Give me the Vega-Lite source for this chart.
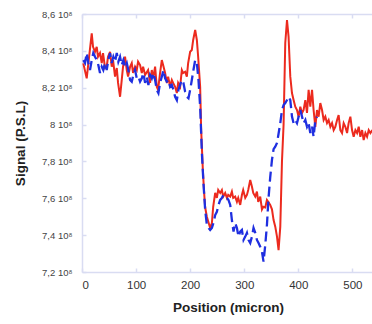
{
  "$schema": "https://vega.github.io/schema/vega-lite/v6.json",
  "width": 292,
  "height": 258,
  "autosize": {"type": "none"},
  "padding": {"left": 82, "top": 14, "right": 0, "bottom": 52},
  "background": "white",
  "config": {
    "view": {"stroke": null},
    "font": "Liberation Sans",
    "axis": {
      "grid": false,
      "domainColor": "#d9dcf2",
      "domainWidth": 1.5,
      "tickColor": "#d9dcf2",
      "tickWidth": 1.5,
      "tickSize": -4,
      "labelColor": "#444444",
      "titleColor": "#222222",
      "titleFont": "Liberation Sans",
      "labelFont": "Liberation Sans",
      "titleFontWeight": "bold",
      "titleFontSize": 13.5,
      "labelOverlap": false
    }
  },
  "data": {
    "values": [
      {"series":"red","position":2.4,"signal":8.332e8},{"series":"red","position":8.7,"signal":8.251e8},{"series":"red","position":11.1,"signal":8.314e8},{"series":"red","position":18,"signal":8.495e8},{"series":"red","position":20.4,"signal":8.422e8},{"series":"red","position":24.1,"signal":8.395e8},{"series":"red","position":27.2,"signal":8.422e8},{"series":"red","position":29.6,"signal":8.368e8},{"series":"red","position":33.3,"signal":8.388e8},{"series":"red","position":36.5,"signal":8.334e8},{"series":"red","position":38.9,"signal":8.388e8},{"series":"red","position":42.6,"signal":8.307e8},{"series":"red","position":45.7,"signal":8.314e8},{"series":"red","position":48.1,"signal":8.368e8},{"series":"red","position":51.9,"signal":8.395e8},{"series":"red","position":55,"signal":8.314e8},{"series":"red","position":57.4,"signal":8.35e8},{"series":"red","position":61.1,"signal":8.26e8},{"series":"red","position":64.3,"signal":8.307e8},{"series":"red","position":66.7,"signal":8.226e8},{"series":"red","position":70.4,"signal":8.151e8},{"series":"red","position":73.5,"signal":8.242e8},{"series":"red","position":75.9,"signal":8.314e8},{"series":"red","position":79.6,"signal":8.368e8},{"series":"red","position":82.8,"signal":8.296e8},{"series":"red","position":85.2,"signal":8.26e8},{"series":"red","position":88.9,"signal":8.314e8},{"series":"red","position":92,"signal":8.334e8},{"series":"red","position":94.4,"signal":8.28e8},{"series":"red","position":98.1,"signal":8.314e8},{"series":"red","position":101.3,"signal":8.296e8},{"series":"red","position":103.7,"signal":8.341e8},{"series":"red","position":107.4,"signal":8.323e8},{"series":"red","position":110.6,"signal":8.28e8},{"series":"red","position":113,"signal":8.314e8},{"series":"red","position":116.7,"signal":8.269e8},{"series":"red","position":122.2,"signal":8.296e8},{"series":"red","position":125.9,"signal":8.226e8},{"series":"red","position":129.1,"signal":8.296e8},{"series":"red","position":131.5,"signal":8.251e8},{"series":"red","position":135.2,"signal":8.314e8},{"series":"red","position":138.3,"signal":8.205e8},{"series":"red","position":140.7,"signal":8.188e8},{"series":"red","position":144.4,"signal":8.28e8},{"series":"red","position":147.6,"signal":8.35e8},{"series":"red","position":150,"signal":8.323e8},{"series":"red","position":153.7,"signal":8.28e8},{"series":"red","position":156.9,"signal":8.226e8},{"series":"red","position":159.3,"signal":8.26e8},{"series":"red","position":163,"signal":8.205e8},{"series":"red","position":166.1,"signal":8.242e8},{"series":"red","position":168.5,"signal":8.226e8},{"series":"red","position":172.2,"signal":8.205e8},{"series":"red","position":175.4,"signal":8.171e8},{"series":"red","position":177.8,"signal":8.226e8},{"series":"red","position":181.5,"signal":8.205e8},{"series":"red","position":184.6,"signal":8.296e8},{"series":"red","position":187,"signal":8.28e8},{"series":"red","position":190.7,"signal":8.287e8},{"series":"red","position":193.9,"signal":8.26e8},{"series":"red","position":196.3,"signal":8.334e8},{"series":"red","position":200,"signal":8.395e8},{"series":"red","position":203.1,"signal":8.405e8},{"series":"red","position":205.6,"signal":8.459e8},{"series":"red","position":209.3,"signal":8.513e8},{"series":"red","position":212.4,"signal":8.459e8},{"series":"red","position":214.8,"signal":8.368e8},{"series":"red","position":218.5,"signal":8.205e8},{"series":"red","position":220.4,"signal":7.97e8},{"series":"red","position":223.5,"signal":7.753e8},{"series":"red","position":225.9,"signal":7.629e8},{"series":"red","position":227.8,"signal":7.55e8},{"series":"red","position":230.9,"signal":7.5e8},{"series":"red","position":237,"signal":7.439e8},{"series":"red","position":240.2,"signal":7.466e8},{"series":"red","position":242.6,"signal":7.554e8},{"series":"red","position":246.3,"signal":7.629e8},{"series":"red","position":249.4,"signal":7.602e8},{"series":"red","position":251.9,"signal":7.645e8},{"series":"red","position":255.6,"signal":7.629e8},{"series":"red","position":258.7,"signal":7.645e8},{"series":"red","position":261.1,"signal":7.609e8},{"series":"red","position":264.8,"signal":7.629e8},{"series":"red","position":268,"signal":7.602e8},{"series":"red","position":270.4,"signal":7.618e8},{"series":"red","position":274.1,"signal":7.609e8},{"series":"red","position":277.2,"signal":7.636e8},{"series":"red","position":279.6,"signal":7.602e8},{"series":"red","position":283.3,"signal":7.609e8},{"series":"red","position":286.5,"signal":7.581e8},{"series":"red","position":288.9,"signal":7.602e8},{"series":"red","position":292.6,"signal":7.564e8},{"series":"red","position":295.7,"signal":7.618e8},{"series":"red","position":298.1,"signal":7.645e8},{"series":"red","position":301.9,"signal":7.602e8},{"series":"red","position":305,"signal":7.618e8},{"series":"red","position":307.4,"signal":7.645e8},{"series":"red","position":311.1,"signal":7.699e8},{"series":"red","position":314.3,"signal":7.663e8},{"series":"red","position":316.7,"signal":7.629e8},{"series":"red","position":320.4,"signal":7.609e8},{"series":"red","position":323.5,"signal":7.636e8},{"series":"red","position":325.9,"signal":7.581e8},{"series":"red","position":329.6,"signal":7.609e8},{"series":"red","position":332.8,"signal":7.54e8},{"series":"red","position":335.2,"signal":7.554e8},{"series":"red","position":338.9,"signal":7.55e8},{"series":"red","position":342,"signal":7.591e8},{"series":"red","position":344.4,"signal":7.581e8},{"series":"red","position":348.1,"signal":7.564e8},{"series":"red","position":351.3,"signal":7.54e8},{"series":"red","position":354.3,"signal":7.482e8},{"series":"red","position":357.4,"signal":7.446e8},{"series":"red","position":360.6,"signal":7.392e8},{"series":"red","position":363.5,"signal":7.319e8},{"series":"red","position":366.7,"signal":7.446e8},{"series":"red","position":369.8,"signal":7.8e8},{"series":"red","position":372.8,"signal":8.0e8},{"series":"red","position":375.9,"signal":8.443e8},{"series":"red","position":379.1,"signal":8.567e8},{"series":"red","position":382,"signal":8.477e8},{"series":"red","position":385.2,"signal":8.26e8},{"series":"red","position":388.3,"signal":8.171e8},{"series":"red","position":391.3,"signal":8.133e8},{"series":"red","position":394.4,"signal":8.097e8},{"series":"red","position":397.6,"signal":8.079e8},{"series":"red","position":400.6,"signal":8.043e8},{"series":"red","position":403.7,"signal":8.097e8},{"series":"red","position":406.9,"signal":8.063e8},{"series":"red","position":409.8,"signal":8.079e8},{"series":"red","position":413,"signal":8.133e8},{"series":"red","position":416.1,"signal":8.063e8},{"series":"red","position":419.1,"signal":8.188e8},{"series":"red","position":422.2,"signal":8.097e8},{"series":"red","position":425.4,"signal":8.188e8},{"series":"red","position":428.3,"signal":8.079e8},{"series":"red","position":431.5,"signal":7.988e8},{"series":"red","position":434.6,"signal":8.079e8},{"series":"red","position":437.6,"signal":8.043e8},{"series":"red","position":440.7,"signal":8.117e8},{"series":"red","position":443.9,"signal":8.079e8},{"series":"red","position":446.9,"signal":8.025e8},{"series":"red","position":450,"signal":8.043e8},{"series":"red","position":453.1,"signal":8.008e8},{"series":"red","position":456.1,"signal":8.025e8},{"series":"red","position":459.3,"signal":7.988e8},{"series":"red","position":462.4,"signal":8.008e8},{"series":"red","position":465.4,"signal":7.97e8},{"series":"red","position":468.5,"signal":7.988e8},{"series":"red","position":471.7,"signal":8.025e8},{"series":"red","position":474.6,"signal":8.052e8},{"series":"red","position":477.8,"signal":7.97e8},{"series":"red","position":480.9,"signal":7.954e8},{"series":"red","position":483.9,"signal":8.008e8},{"series":"red","position":487,"signal":7.988e8},{"series":"red","position":490.2,"signal":7.954e8},{"series":"red","position":493.1,"signal":8.008e8},{"series":"red","position":496.3,"signal":8.043e8},{"series":"red","position":499.4,"signal":7.97e8},{"series":"red","position":502.4,"signal":7.934e8},{"series":"red","position":505.6,"signal":7.97e8},{"series":"red","position":508.7,"signal":7.954e8},{"series":"red","position":511.7,"signal":7.988e8},{"series":"red","position":514.8,"signal":7.934e8},{"series":"red","position":518,"signal":7.97e8},{"series":"red","position":520.9,"signal":7.916e8},{"series":"red","position":524.1,"signal":7.954e8},{"series":"red","position":527.2,"signal":7.934e8},{"series":"red","position":530.2,"signal":7.97e8},{"series":"red","position":533.3,"signal":7.954e8},{"series":"red","position":537,"signal":7.97e8},
      {"series":"blue","position":2.4,"signal":8.35e8},{"series":"blue","position":5.6,"signal":8.334e8},{"series":"blue","position":8.7,"signal":8.388e8},{"series":"blue","position":11.7,"signal":8.334e8},{"series":"blue","position":14.8,"signal":8.296e8},{"series":"blue","position":18,"signal":8.35e8},{"series":"blue","position":20.9,"signal":8.388e8},{"series":"blue","position":24.1,"signal":8.368e8},{"series":"blue","position":27.2,"signal":8.35e8},{"series":"blue","position":30.2,"signal":8.323e8},{"series":"blue","position":33.3,"signal":8.28e8},{"series":"blue","position":36.5,"signal":8.314e8},{"series":"blue","position":39.4,"signal":8.296e8},{"series":"blue","position":42.6,"signal":8.334e8},{"series":"blue","position":45.7,"signal":8.296e8},{"series":"blue","position":48.7,"signal":8.35e8},{"series":"blue","position":51.9,"signal":8.388e8},{"series":"blue","position":55,"signal":8.334e8},{"series":"blue","position":58,"signal":8.368e8},{"series":"blue","position":61.1,"signal":8.341e8},{"series":"blue","position":64.3,"signal":8.388e8},{"series":"blue","position":67.2,"signal":8.341e8},{"series":"blue","position":70.4,"signal":8.368e8},{"series":"blue","position":73.5,"signal":8.323e8},{"series":"blue","position":76.5,"signal":8.35e8},{"series":"blue","position":79.6,"signal":8.314e8},{"series":"blue","position":82.8,"signal":8.334e8},{"series":"blue","position":85.7,"signal":8.296e8},{"series":"blue","position":88.9,"signal":8.242e8},{"series":"blue","position":92,"signal":8.233e8},{"series":"blue","position":95,"signal":8.269e8},{"series":"blue","position":98.1,"signal":8.296e8},{"series":"blue","position":101.3,"signal":8.251e8},{"series":"blue","position":104.3,"signal":8.26e8},{"series":"blue","position":107.4,"signal":8.233e8},{"series":"blue","position":110.6,"signal":8.251e8},{"series":"blue","position":113.5,"signal":8.28e8},{"series":"blue","position":116.7,"signal":8.226e8},{"series":"blue","position":119.8,"signal":8.26e8},{"series":"blue","position":122.8,"signal":8.215e8},{"series":"blue","position":125.9,"signal":8.269e8},{"series":"blue","position":129.1,"signal":8.251e8},{"series":"blue","position":132,"signal":8.28e8},{"series":"blue","position":135.2,"signal":8.242e8},{"series":"blue","position":138.3,"signal":8.188e8},{"series":"blue","position":141.3,"signal":8.171e8},{"series":"blue","position":144.4,"signal":8.226e8},{"series":"blue","position":147.6,"signal":8.26e8},{"series":"blue","position":150.6,"signal":8.296e8},{"series":"blue","position":153.7,"signal":8.251e8},{"series":"blue","position":156.9,"signal":8.233e8},{"series":"blue","position":159.8,"signal":8.242e8},{"series":"blue","position":163,"signal":8.205e8},{"series":"blue","position":166.1,"signal":8.215e8},{"series":"blue","position":169.1,"signal":8.188e8},{"series":"blue","position":172.2,"signal":8.151e8},{"series":"blue","position":175.4,"signal":8.133e8},{"series":"blue","position":178.3,"signal":8.188e8},{"series":"blue","position":181.5,"signal":8.215e8},{"series":"blue","position":184.6,"signal":8.242e8},{"series":"blue","position":187.6,"signal":8.226e8},{"series":"blue","position":190.7,"signal":8.178e8},{"series":"blue","position":193.9,"signal":8.151e8},{"series":"blue","position":196.9,"signal":8.143e8},{"series":"blue","position":200,"signal":8.188e8},{"series":"blue","position":203.1,"signal":8.242e8},{"series":"blue","position":206.1,"signal":8.296e8},{"series":"blue","position":209.3,"signal":8.35e8},{"series":"blue","position":212.4,"signal":8.334e8},{"series":"blue","position":215.4,"signal":8.242e8},{"series":"blue","position":218.5,"signal":8.097e8},{"series":"blue","position":221.7,"signal":7.846e8},{"series":"blue","position":224.6,"signal":7.683e8},{"series":"blue","position":227.8,"signal":7.536e8},{"series":"blue","position":230.9,"signal":7.455e8},{"series":"blue","position":233.9,"signal":7.439e8},{"series":"blue","position":237,"signal":7.428e8},{"series":"blue","position":240.2,"signal":7.439e8},{"series":"blue","position":243.1,"signal":7.466e8},{"series":"blue","position":246.3,"signal":7.509e8},{"series":"blue","position":249.4,"signal":7.527e8},{"series":"blue","position":252.4,"signal":7.564e8},{"series":"blue","position":255.6,"signal":7.591e8},{"series":"blue","position":258.7,"signal":7.602e8},{"series":"blue","position":261.7,"signal":7.618e8},{"series":"blue","position":264.8,"signal":7.609e8},{"series":"blue","position":268,"signal":7.602e8},{"series":"blue","position":270.9,"signal":7.591e8},{"series":"blue","position":274.1,"signal":7.564e8},{"series":"blue","position":277.2,"signal":7.482e8},{"series":"blue","position":280.2,"signal":7.419e8},{"series":"blue","position":283.3,"signal":7.466e8},{"series":"blue","position":286.5,"signal":7.439e8},{"series":"blue","position":289.4,"signal":7.392e8},{"series":"blue","position":292.6,"signal":7.419e8},{"series":"blue","position":295.7,"signal":7.428e8},{"series":"blue","position":298.7,"signal":7.374e8},{"series":"blue","position":301.9,"signal":7.392e8},{"series":"blue","position":305,"signal":7.412e8},{"series":"blue","position":307.9,"signal":7.374e8},{"series":"blue","position":311.1,"signal":7.357e8},{"series":"blue","position":314.3,"signal":7.392e8},{"series":"blue","position":317.2,"signal":7.439e8},{"series":"blue","position":320.4,"signal":7.412e8},{"series":"blue","position":323.5,"signal":7.374e8},{"series":"blue","position":326.5,"signal":7.357e8},{"series":"blue","position":329.6,"signal":7.337e8},{"series":"blue","position":332.8,"signal":7.31e8},{"series":"blue","position":335.7,"signal":7.256e8},{"series":"blue","position":338.9,"signal":7.346e8},{"series":"blue","position":342,"signal":7.455e8},{"series":"blue","position":344.9,"signal":7.6e8},{"series":"blue","position":348.1,"signal":7.715e8},{"series":"blue","position":351.3,"signal":7.808e8},{"series":"blue","position":354.3,"signal":7.867e8},{"series":"blue","position":357.4,"signal":7.88e8},{"series":"blue","position":360.6,"signal":7.9e8},{"series":"blue","position":363.5,"signal":7.95e8},{"series":"blue","position":366.7,"signal":8.008e8},{"series":"blue","position":369.8,"signal":8.079e8},{"series":"blue","position":372.8,"signal":8.106e8},{"series":"blue","position":375.9,"signal":8.117e8},{"series":"blue","position":379.1,"signal":8.133e8},{"series":"blue","position":382,"signal":8.151e8},{"series":"blue","position":385.2,"signal":8.133e8},{"series":"blue","position":388.3,"signal":8.043e8},{"series":"blue","position":391.3,"signal":8.008e8},{"series":"blue","position":394.4,"signal":8.025e8},{"series":"blue","position":397.6,"signal":8.008e8},{"series":"blue","position":400.6,"signal":8.043e8},{"series":"blue","position":403.7,"signal":8.079e8},{"series":"blue","position":406.9,"signal":8.043e8},{"series":"blue","position":409.8,"signal":8.008e8},{"series":"blue","position":413,"signal":8.025e8},{"series":"blue","position":416.1,"signal":7.988e8},{"series":"blue","position":419.1,"signal":8.008e8},{"series":"blue","position":422.2,"signal":7.954e8},{"series":"blue","position":425.4,"signal":7.988e8},{"series":"blue","position":428.3,"signal":7.934e8},{"series":"blue","position":431.5,"signal":8.025e8},{"series":"blue","position":434.6,"signal":8.043e8}
    ]
  },
  "layer": [
    {
      "transform": [{"filter": "datum.series === 'red'"}],
      "mark": {"type": "line", "color": "#ec2a1e", "strokeWidth": 2, "clip": true},
      "encoding": {
        "x": {
          "field": "position", "type": "quantitative",
          "scale": {"domain": [0, 540], "nice": false, "zero": false},
          "axis": {"title": "Position (micron)", "values": [0,100,200,300,400,500], "tickCount": 12, "labelFontSize": 11.5, "labelPadding": 11, "titlePadding": 10, "labelColor": "#333333"}
        },
        "y": {
          "field": "signal", "type": "quantitative",
          "scale": {"domain": [7.2e8, 8.6e8], "nice": false, "zero": false},
          "axis": {
            "title": "Signal (P.S.L)",
            "values": [7.2e8, 7.4e8, 7.6e8, 7.8e8, 8.0e8, 8.2e8, 8.4e8, 8.6e8],
            "tickCount": 16,
            "labelExpr": "replace(format(datum.value / 1e8, '.1~f'), '.', ',') + ' 10⁸'",
            "labelFontSize": 9.5,
            "labelPadding": 14,
            "titlePadding": 14,
            "labelOverlap": false,
            "labelBound": false,
            "labelFlush": false
          }
        }
      }
    },
    {
      "transform": [{"filter": "datum.series === 'blue'"}],
      "mark": {"type": "line", "color": "#1f2fe0", "strokeWidth": 2.3, "strokeDash": [10, 5], "clip": true},
      "encoding": {
        "x": {
          "field": "position", "type": "quantitative",
          "scale": {"domain": [0, 540], "nice": false, "zero": false},
          "axis": {"orient": "top", "title": null, "labels": false, "values": [0,100,200,300,400,500], "tickCount": 12}
        },
        "y": {"field": "signal", "type": "quantitative", "axis": {"labelOverlap": false, "tickCount": 16}}
      }
    }
  ],
  "resolve": {"scale": {"x": "independent"}, "axis": {"x": "independent"}}
}
